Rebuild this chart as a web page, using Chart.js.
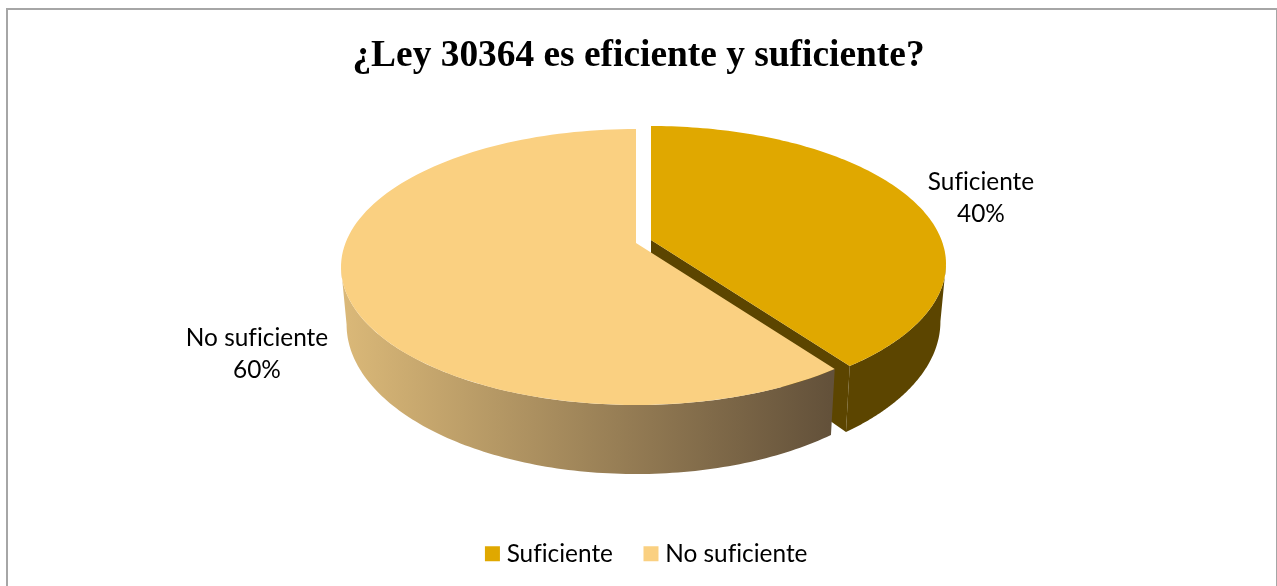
<!DOCTYPE html>
<html>
<head>
<meta charset="utf-8">
<script src="https://cdn.jsdelivr.net/npm/chart.js@4"></script>
<style>
  html, body { margin: 0; padding: 0; background: #fff; overflow: hidden; }
  #page { position: relative; width: 1277px; height: 586px; overflow: hidden; }
  #frame { position: absolute; left: 6px; top: 8px; width: 1268px; height: 640px; border: 2px solid #a6a6a6; }
  #chart { position: absolute; left: 0; top: 0; }
</style>
</head>
<body>
<div id="page">
  <div id="frame"></div>
  <canvas id="chart" width="1277" height="586"></canvas>
</div>
<script>
// Chart values
const categories = ['Suficiente', 'No suficiente'];
const shares = [40, 60];

const textFont = 'Lato, sans-serif';
const textSize = 24.4;
const sliceColors = ['#E0A800', '#FAD081'];

// Tilted disc: how the unit circle of each pie slice lands on the page
const pieCentre = { x: 636, y: 243 };
const topRim = { a: 290.5, b: 133.8, k: 0.174, dy: 0 };
const bottomRim = { a: 285, b: 145, k: 0.174, dy: 55.5 };
const sliceShift = [{ x: 15, y: -3 }, { x: 0, y: 0 }];
const labelSpots = [{ x: 981, y: 182 }, { x: 257, y: 338 }];

function project(c, rim, angle) {
    const u = Math.cos(angle), v = Math.sin(angle);
    const w = 1 - rim.k * v;
    return [c.x + rim.a * u / w, c.y + rim.dy + rim.b * v / w];
}

function traceRim(ctx, c, rim, from, to) {
    const steps = 120;
    for (let i = 0; i <= steps; i++) {
        const p = project(c, rim, from + (to - from) * i / steps);
        ctx.lineTo(p[0], p[1]);
    }
}

// Replaces the flat arcs with a tilted disc, angles come from the arc elements
const tiltedPie = {
    id: 'tiltedPie',
    afterLayout(chart) {
        chart.legend.left += 10;
        chart.legend.right += 10;
    },
    beforeDraw(chart) {
        // no fi ligature in the reference text
        chart.ctx.textRendering = 'optimizeSpeed';
    },
    beforeDatasetDraw(chart) {
        const ctx = chart.ctx;
        const edge = Math.asin(topRim.k);
        chart.getDatasetMeta(0).data.forEach((arc, i) => {
            const c = { x: pieCentre.x + sliceShift[i].x, y: pieCentre.y + sliceShift[i].y };
            const start = arc.startAngle, end = arc.endAngle;
            const from = Math.max(start, edge), to = Math.min(end, Math.PI - edge);

            ctx.save();
            // inner cut face of the pulled out slice
            if (i === 0) {
                const t = project(c, topRim, end), b = project(c, bottomRim, end);
                ctx.beginPath();
                ctx.moveTo(c.x, c.y);
                ctx.lineTo(t[0], t[1]);
                ctx.lineTo(b[0], b[1]);
                ctx.lineTo(c.x, c.y + bottomRim.dy);
                ctx.closePath();
                ctx.fillStyle = '#5C4500';
                ctx.fill();
            }

            // outer wall
            ctx.beginPath();
            traceRim(ctx, c, topRim, from, to);
            traceRim(ctx, c, bottomRim, to, from);
            ctx.closePath();
            if (i === 0) {
                ctx.fillStyle = '#5C4500';
            } else {
                const g = ctx.createLinearGradient(345, 0, 830, 0);
                g.addColorStop(0, '#DAB878');
                g.addColorStop(1, '#63513A');
                ctx.fillStyle = g;
            }
            ctx.fill();

            // top face
            ctx.beginPath();
            ctx.moveTo(c.x, c.y);
            traceRim(ctx, c, topRim, start, end);
            ctx.closePath();
            ctx.fillStyle = sliceColors[i];
            ctx.fill();
            ctx.restore();
        });
        return false;
    },
    afterDraw(chart) {
        const ctx = chart.ctx;
        ctx.save();
        ctx.font = textSize + 'px ' + textFont;
        ctx.fillStyle = '#000';
        ctx.textAlign = 'center';
        ctx.textBaseline = 'middle';
        const total = shares.reduce((a, b) => a + b, 0);
        categories.forEach((name, i) => {
            ctx.fillText(name, labelSpots[i].x, labelSpots[i].y);
            ctx.fillText(Math.round(shares[i] / total * 100) + '%', labelSpots[i].x, labelSpots[i].y + 32);
        });
        ctx.restore();
    }
};

new Chart(document.getElementById('chart'), {
    type: 'pie',
    data: {
        labels: categories,
        datasets: [{ data: shares, backgroundColor: sliceColors, borderWidth: 0 }]
    },
    plugins: [tiltedPie],
    options: {
        responsive: false,
        animation: false,
        layout: { padding: { top: 34, bottom: 10 } },
        plugins: {
            tooltip: { enabled: false },
            title: {
                display: true,
                text: '¿Ley 30364 es eficiente y suficiente?',
                color: '#000',
                font: { family: '"Liberation Serif", serif', size: 37.4, weight: 'bold' },
                padding: { top: 0, bottom: 10 }
            },
            legend: {
                position: 'bottom',
                labels: {
                    color: '#000',
                    font: { family: textFont, size: textSize },
                    boxWidth: 4,
                    boxHeight: 4,
                    padding: 36,
                    // a thick outline gives the 15px key close to its text
                    generateLabels(chart) {
                        const items = Chart.overrides.pie.plugins.legend.labels.generateLabels(chart);
                        return items.map(it => ({ ...it, strokeStyle: it.fillStyle, lineWidth: 11 }));
                    }
                }
            }
        }
    }
});
</script>
</body>
</html>
